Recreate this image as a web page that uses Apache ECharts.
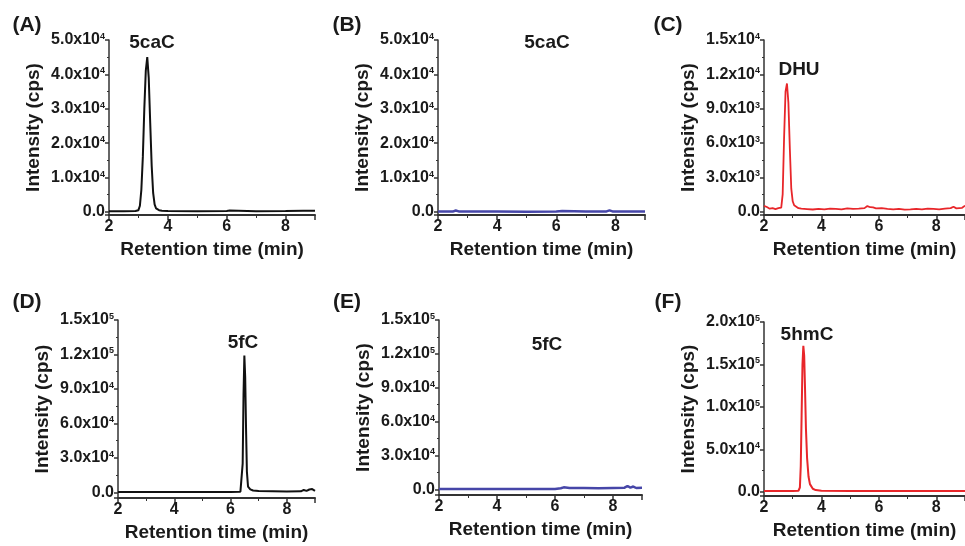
<!DOCTYPE html>
<html>
<head>
<meta charset="utf-8">
<script src="https://cdn.jsdelivr.net/npm/echarts@6/dist/echarts.min.js"></script>
<style>
  html, body { margin: 0; padding: 0; background: #fff; }
  #chart { width: 965px; height: 546px; }
</style>
</head>
<body>
<div id="chart"></div>
<script>
var chartDom = document.getElementById('chart');
var myChart = echarts.init(chartDom);

// (A) 5caC, black
var timeA = [2.0, 2.5, 2.9, 3.0, 3.05, 3.1, 3.15, 3.2, 3.25, 3.3, 3.35, 3.4, 3.45, 3.5, 3.55, 3.6, 3.7, 3.8, 4.0, 5.0, 6.0, 6.1, 7.0, 8.0, 8.6, 9.0];
var intA = [200, 200, 250, 500, 1800, 6500, 16000, 30000, 41000, 45000, 39000, 26000, 13500, 5500, 2200, 1000, 500, 350, 250, 200, 250, 400, 200, 250, 350, 300];

// (B) 5caC, blue
var timeB = [2.0, 2.5, 2.6, 2.7, 3.0, 4.0, 5.0, 6.0, 6.2, 7.0, 7.7, 7.8, 7.9, 8.5, 9.0];
var intB = [100, 100, 400, 150, 100, 100, 80, 100, 250, 100, 150, 450, 150, 100, 100];

// (C) DHU, red
var timeC = [2.0, 2.05, 2.1, 2.2, 2.3, 2.4, 2.5, 2.55, 2.6, 2.65, 2.7, 2.75, 2.8, 2.85, 2.9, 2.95, 3.0, 3.05, 3.1, 3.2, 3.3, 3.5, 3.7, 3.9, 4.1, 4.3, 4.5, 4.7, 4.9, 5.1, 5.3, 5.5, 5.6, 5.7, 5.8, 5.9, 6.1, 6.3, 6.5, 6.7, 6.9, 7.1, 7.3, 7.5, 7.7, 7.9, 8.1, 8.3, 8.5, 8.6, 8.7, 8.9, 9.0];
var intC = [500, 350, 400, 250, 300, 220, 300, 400, 350, 1500, 6500, 10500, 11200, 9500, 5500, 2000, 900, 550, 400, 300, 260, 220, 180, 240, 200, 260, 230, 200, 280, 230, 260, 300, 480, 380, 360, 280, 300, 240, 200, 240, 170, 200, 240, 200, 260, 230, 200, 260, 300, 420, 280, 330, 520];

// (D) 5fC, black
var timeD = [2.0, 3.0, 4.0, 5.0, 6.0, 6.35, 6.4, 6.43, 6.46, 6.49, 6.52, 6.55, 6.58, 6.62, 6.7, 6.8, 7.0, 8.0, 8.5, 8.6, 8.7, 8.8, 8.85, 8.9, 9.0];
var intD = [200, 200, 200, 200, 300, 500, 2000, 25000, 85000, 119000, 100000, 55000, 18000, 5000, 2500, 1500, 1000, 600, 800, 2000, 1200, 2400, 1500, 2800, 1200];

// (E) 5fC, blue
var timeE = [2.0, 3.0, 4.0, 5.0, 6.0, 6.2, 6.3, 6.5, 7.0, 7.5, 8.0, 8.4, 8.5, 8.6, 8.7, 8.8, 9.0];
var intE = [300, 300, 300, 300, 400, 1000, 1800, 1200, 1200, 1000, 1300, 1500, 3000, 1500, 2500, 1200, 1500];

// (F) 5hmC, red
var timeF = [2.0, 3.0, 3.2, 3.25, 3.28, 3.31, 3.34, 3.37, 3.4, 3.43, 3.46, 3.5, 3.55, 3.6, 3.7, 3.8, 4.0, 5.0, 6.0, 7.0, 8.0, 9.0];
var intF = [800, 900, 1200, 5000, 30000, 90000, 150000, 172000, 160000, 120000, 75000, 40000, 18000, 9000, 3500, 2000, 1200, 1000, 900, 800, 800, 1000];

var panelLetters = ['(A)', '(B)', '(C)', '(D)', '(E)', '(F)'];
var peakNames = ['5caC', '5caC', 'DHU', '5fC', '5fC', '5hmC'];
var yMax = [50000, 50000, 15000, 150000, 150000, 200000];
var yMin = [-900, -900, -300, -5000, -5000, -5000];
var ySplit = [5, 5, 5, 5, 5, 4];

var colors = ['#111111', '#4646a8', '#e8262a', '#111111', '#4646a8', '#e8262a'];
var widths = [2, 2.5, 1.8, 2, 2.5, 2];
var times = [timeA, timeB, timeC, timeD, timeE, timeF];
var ints = [intA, intB, intC, intD, intE, intF];

// grid boxes: left, top, width, height
var boxes = [
  [109, 40, 206, 175],
  [438, 40, 207, 175],
  [764, 40, 205, 175],
  [118, 320, 197, 178],
  [439, 320, 203, 175],
  [764, 322, 205, 174]
];
var letterPos = [[27, 25], [347, 25], [668, 25], [27, 302], [347, 302], [668, 302]];
var namePos = [[152, 43], [547, 43], [799, 70], [243, 343], [547, 345], [807, 335]];

var FONT = 'Liberation Sans, Arial, sans-serif';
var INK = '#1a1a1a';

function sciLabel(v) {
  if (v < 0) return '';
  if (v === 0) return '{m|0.0}';
  var e = Math.floor(Math.log10(v) + 1e-9);
  var m = v / Math.pow(10, e);
  return '{m|' + m.toFixed(1) + 'x10}{s|' + e + '}';
}

var grid = [], xAxis = [], yAxis = [], series = [], graphic = [];
for (var i = 0; i < 6; i++) {
  var b = boxes[i];
  grid.push({ left: b[0], top: b[1], width: b[2], height: b[3] });
  xAxis.push({
    type: 'value', gridIndex: i, min: 2, max: 9, interval: 2,
    name: 'Retention time (min)', nameLocation: 'middle', nameGap: 25,
    nameTextStyle: { fontFamily: FONT, fontWeight: 'bold', fontSize: 19, color: INK },
    axisLine: { onZero: false, lineStyle: { color: '#333', width: 2 } },
    axisTick: { length: 5, lineStyle: { color: '#333', width: 1.5 } },
    minorTick: { show: true, splitNumber: 2, length: 3, lineStyle: { color: '#333' } },
    splitLine: { show: false },
    axisLabel: {
      margin: 4, fontFamily: FONT, fontWeight: 'bold', fontSize: 16, color: INK,
      showMaxLabel: false,
      formatter: function (v) { return v % 2 === 0 ? String(v) : ''; }
    }
  });
  yAxis.push({
    type: 'value', gridIndex: i, min: yMin[i], max: yMax[i], splitNumber: ySplit[i],
    name: 'Intensity (cps)', nameLocation: 'middle', nameGap: 66,
    nameTextStyle: { fontFamily: FONT, fontWeight: 'bold', fontSize: 19, color: INK },
    axisLine: { show: true, lineStyle: { color: '#333', width: 1.5 } },
    axisTick: { show: true, length: 4, lineStyle: { color: '#333', width: 1.5 } },
    minorTick: { show: true, splitNumber: 2, length: 2, lineStyle: { color: '#333' } },
    splitLine: { show: false },
    axisLabel: {
      margin: 4, showMinLabel: false,
      formatter: sciLabel,
      rich: {
        m: { fontFamily: FONT, fontWeight: 'bold', fontSize: 16, color: INK },
        s: { fontFamily: FONT, fontWeight: 'bold', fontSize: 9, color: INK, verticalAlign: 'top' }
      }
    }
  });
  var pts = [];
  for (var k = 0; k < times[i].length; k++) pts.push([times[i][k], ints[i][k]]);
  series.push({
    type: 'line', xAxisIndex: i, yAxisIndex: i, data: pts,
    showSymbol: false, symbol: 'none',
    lineStyle: { color: colors[i], width: widths[i] },
    clip: true
  });
  graphic.push({
    type: 'text', x: letterPos[i][0], y: letterPos[i][1],
    style: { text: panelLetters[i], font: 'bold 21px ' + FONT, fill: INK,
      align: 'center', verticalAlign: 'middle', textAlign: 'center', textVerticalAlign: 'middle' }
  });
  graphic.push({
    type: 'text', x: namePos[i][0], y: namePos[i][1],
    style: { text: peakNames[i], font: 'bold 19px ' + FONT, fill: INK,
      align: 'center', verticalAlign: 'middle', textAlign: 'center', textVerticalAlign: 'middle' }
  });
}

var option = {
  animation: false,
  backgroundColor: '#fff',
  grid: grid,
  xAxis: xAxis,
  yAxis: yAxis,
  series: series,
  graphic: graphic
};

option && myChart.setOption(option);
</script>
</body>
</html>
